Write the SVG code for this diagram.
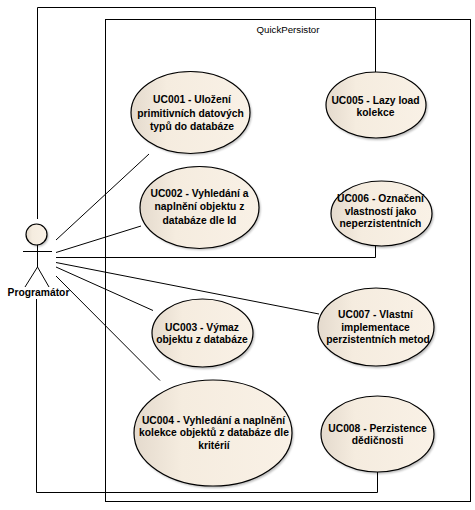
<svg xmlns="http://www.w3.org/2000/svg" width="475" height="510" viewBox="0 0 475 510">
<style>
text{font-family:"Liberation Sans",Arial,sans-serif;font-size:10.3px;font-weight:bold;fill:#000;text-anchor:middle}
.b{fill:none;stroke:#000;stroke-width:1}
.c{fill:none;stroke:#000;stroke-width:1}
.u{fill:url(#g);stroke:#000;stroke-width:1.2}
.s{fill:#000;opacity:.28;filter:url(#bl)}
</style>
<defs>
<linearGradient id="g" x1="0" y1="0" x2="1" y2="0"><stop offset="0" stop-color="#e4dacd"/><stop offset=".3" stop-color="#f5ecdf"/><stop offset="1" stop-color="#f9f1e6"/></linearGradient>
<filter id="bl" x="-10%" y="-10%" width="120%" height="120%"><feGaussianBlur stdDeviation="1"/></filter>
</defs>
<rect width="475" height="510" fill="#fff"/>
<g id="boundary"><rect class="b" x="105.500" y="19.500" width="365" height="482"/><text x="288" y="33" style="font-weight:normal;font-size:9.700px">QuickPersistor</text></g>
<g id="connectors">
<path class="b" d="M37.500 219V7.500H375.500V72"/>
<path class="b" d="M56 257.500H375.500V246"/>
<path class="b" d="M36.500 299V492.500H377.500V472"/>
<path class="c" d="M56 240L149 154M56 252.500L141 226M56 262.500L319 314M56 267L153 310.500M56 276L160 380.500"/>
</g>
<g id="actor">
<circle class="s" cx="38" cy="236" r="10.500"/><circle class="u" cx="36.500" cy="234.500" r="10.500"/>
<path class="b" d="M37.500 245V267M23 251.500H52M37.500 267L25 287M37.500 267L49 287"/>
<text x="38.500" y="296">Programátor</text>
</g>
<g id="uc001"><ellipse class="s" cx="192" cy="114" rx="59.500" ry="41"/><ellipse class="u" cx="190.500" cy="112.500" rx="59.500" ry="41"/><text x="192" y="103">UC001 - Uložení</text><text x="190.500" y="117">primitivních datových</text><text x="192" y="130">typů do databáze</text></g>
<g id="uc002"><ellipse class="s" cx="201" cy="209" rx="59.500" ry="41"/><ellipse class="u" cx="199.500" cy="207.500" rx="59.500" ry="41"/><text x="199.500" y="197">UC002 - Vyhledání a</text><text x="199.500" y="210">naplnění objektu z</text><text x="199.500" y="224">databáze dle Id</text></g>
<g id="uc003"><ellipse class="s" cx="204" cy="335" rx="50.500" ry="34"/><ellipse class="u" cx="202.500" cy="333" rx="50.500" ry="34"/><text x="202" y="331">UC003 - Výmaz</text><text x="202" y="343">objektu z databáze</text></g>
<g id="uc004"><ellipse class="s" cx="214.500" cy="435" rx="79" ry="53"/><ellipse class="u" cx="213" cy="433" rx="79" ry="53"/><text x="213.500" y="424">UC004 - Vyhledání a naplnění</text><text x="214" y="436">kolekce objektů z databáze dle</text><text x="214" y="449">kritérií</text></g>
<g id="uc005"><ellipse class="s" cx="377.500" cy="107" rx="50" ry="33"/><ellipse class="u" cx="376" cy="105" rx="50" ry="33"/><text x="375.500" y="103.500">UC005 - Lazy load</text><text x="375.500" y="116">kolekce</text></g>
<g id="uc006"><ellipse class="s" cx="383" cy="215.500" rx="50.500" ry="32.500"/><ellipse class="u" cx="381.500" cy="213.500" rx="50.500" ry="32.500"/><text x="380.500" y="202">UC006 - Označení</text><text x="380.500" y="215">vlastností jako</text><text x="380.500" y="227">neperzistentních</text></g>
<g id="uc007"><ellipse class="s" cx="377.500" cy="329" rx="58" ry="39"/><ellipse class="u" cx="376" cy="327" rx="58" ry="39"/><text x="375.500" y="318">UC007 - Vlastní</text><text x="375.500" y="331">implementace</text><text x="378" y="343">perzistentních metod</text></g>
<g id="uc008"><ellipse class="s" cx="379" cy="436" rx="56.500" ry="38"/><ellipse class="u" cx="377.500" cy="434" rx="56.500" ry="38"/><text x="377.500" y="431.500">UC008 - Perzistence</text><text x="377.500" y="444">dědičnosti</text></g>
</svg>
